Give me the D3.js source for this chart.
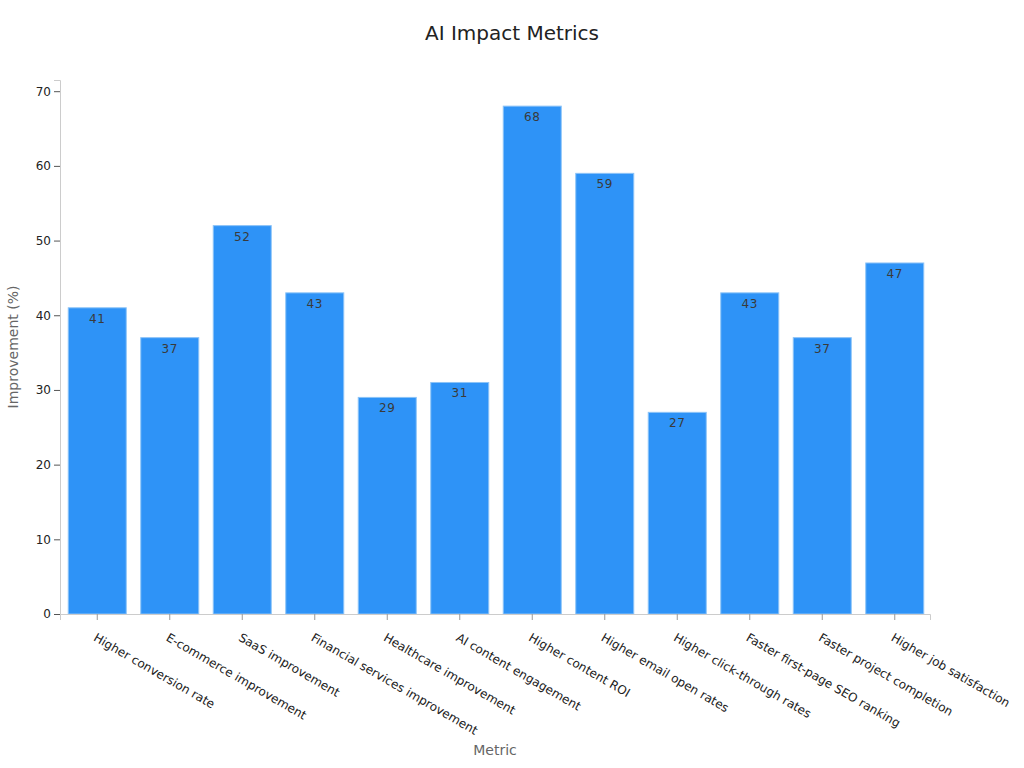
<!DOCTYPE html>
<html>
<head>
<meta charset="utf-8">
<script src="https://cdn.jsdelivr.net/npm/d3@7"></script>
<style>
body { margin:0; background:#fff; font-family:"DejaVu Sans", sans-serif; }
</style>
</head>
<body>
<script>
var categories = ["Higher conversion rate","E-commerce improvement","SaaS improvement","Financial services improvement","Healthcare improvement","AI content engagement","Higher content ROI","Higher email open rates","Higher click-through rates","Faster first-page SEO ranking","Faster project completion","Higher job satisfaction"];
var values = [41,37,52,43,29,31,68,59,27,43,37,47];
var yTicks = [0,10,20,30,40,50,60,70];

var width = 1024, height = 768;
var margin = {left:60, right:94, top:80, bottom:154};
var plotW = width - margin.left - margin.right;
var plotH = height - margin.top - margin.bottom;

var svg = d3.select("body").append("svg").attr("width",width).attr("height",height);

var x = d3.scaleBand().domain(categories).range([0,plotW]).paddingInner(0.2).paddingOuter(0.1);
var y = d3.scaleLinear().domain([0,71.5]).range([plotH,0]);

var g = svg.append("g").attr("transform","translate("+margin.left+","+margin.top+")");

g.selectAll("rect").data(values).enter().append("rect")
  .attr("x",function(d,i){ return x(categories[i]) + 1; })
  .attr("y",function(d){ return y(d); })
  .attr("width",x.bandwidth())
  .attr("height",function(d){ return plotH - y(d); })
  .attr("fill","#2e93f7")
  .attr("stroke","#8cc3f7").attr("stroke-width",1);

g.selectAll("text.val").data(values).enter().append("text")
  .attr("class","val")
  .attr("x",function(d,i){ return x(categories[i]) + 1 + x.bandwidth()/2; })
  .attr("y",function(d){ return y(d) + 15; })
  .attr("text-anchor","middle")
  .attr("font-size",12).attr("fill","#3a3a3a").attr("letter-spacing","0.5px")
  .text(function(d){ return d; });

var yAxis = d3.axisLeft(y).tickValues(yTicks).tickSize(6).tickPadding(3);
var yg = g.append("g").call(yAxis);
var xAxis = d3.axisBottom(x).tickSize(6).tickPadding(4);
var xg = g.append("g").attr("transform","translate(1,"+plotH+")").call(xAxis);
xg.select(".domain").attr("transform","translate(-1,0)");

[yg,xg].forEach(function(a){
  a.select(".domain").attr("stroke","#ccc");
  a.selectAll(".tick line").attr("stroke","#555");
  a.selectAll(".tick text").attr("fill","#222").attr("font-size",12).attr("font-family","DejaVu Sans, sans-serif");
});
xg.selectAll(".tick line").attr("stroke","#999");
xg.selectAll(".tick text")
  .attr("text-anchor","start")
  .attr("transform","translate(-4,5) rotate(30)")
  .attr("x",10)
  .attr("dy","0.71em");

svg.append("text").attr("x",512).attr("y",40).attr("text-anchor","middle")
  .attr("font-size",20).attr("fill","#222").text("AI Impact Metrics");
svg.append("text").attr("x",margin.left + plotW/2).attr("y",755).attr("text-anchor","middle")
  .attr("font-size",14).attr("fill","#666").text("Metric");
svg.append("text").attr("transform","translate(18,"+(margin.top+plotH/2)+") rotate(-90)")
  .attr("text-anchor","middle").attr("font-size",14).attr("fill","#666").text("Improvement (%)");
</script>
</body>
</html>
